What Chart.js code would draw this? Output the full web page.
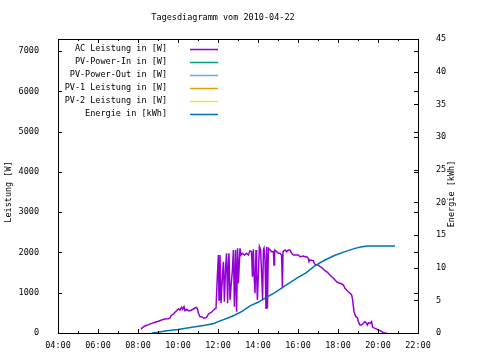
<!DOCTYPE html>
<html>
<head>
<meta charset="utf-8">
<title>Tagesdiagramm</title>
<script src="https://cdn.jsdelivr.net/npm/chart.js@4.4.1/dist/chart.umd.min.js"></script>
<style>
  body { margin: 0; background: #fff; }
  canvas { display: block; }
</style>
</head>
<body>
<canvas id="tages-chart" width="480" height="360"></canvas>
<script>
// Tagesdiagramm 2010-04-22, Stunden (dezimal) / Watt / kWh
let chartTitle = 'Tagesdiagramm vom 2010-04-22';
let seriesNames = ['AC Leistung in [W]', 'PV-Power-In in [W]', 'PV-Power-Out in [W]',
                   'PV-1 Leistung in [W]', 'PV-2 Leistung in [W]', 'Energie in [kWh]'];
let seriesColors = ['#9400d3', '#009e73', '#56b4e9', '#e69f00', '#f0e442', '#0072b2'];

let acHours = [8.15, 8.22, 8.35, 8.52, 8.68, 8.85, 9.02, 9.15, 9.32, 9.52, 9.6, 9.65, 9.77, 9.85, 9.93,
  10.02, 10.1, 10.18, 10.23, 10.3, 10.35, 10.43, 10.52, 10.6, 10.68, 10.77, 10.85, 10.93, 10.98,
  11.02, 11.1, 11.18, 11.27, 11.35, 11.43, 11.52, 11.68, 11.82, 11.9, 11.97,
  12.02, 12.05, 12.1, 12.15, 12.22, 12.27, 12.32, 12.38, 12.43, 12.48, 12.52, 12.55, 12.6, 12.65,
  12.72, 12.77, 12.82, 12.88, 12.93, 12.98, 13.02, 13.1, 13.15, 13.22, 13.32, 13.43, 13.52, 13.6,
  13.68, 13.72, 13.77, 13.8, 13.85, 13.9, 13.93, 13.97, 14.02, 14.07, 14.13, 14.18, 14.23, 14.27,
  14.3, 14.35, 14.4, 14.43, 14.47, 14.52, 14.6, 14.68, 14.77, 14.8, 14.83, 14.93, 15.02, 15.1,
  15.18, 15.22, 15.25, 15.35, 15.43, 15.52, 15.6, 15.68, 15.77, 15.93, 16.02, 16.1, 16.27, 16.35,
  16.43, 16.52, 16.55, 16.6, 16.77, 16.82, 16.88, 17.02, 17.1, 17.18, 17.27, 17.35, 17.43, 17.52,
  17.6, 17.68, 17.77, 17.85, 17.93, 18.02, 18.1, 18.18, 18.27, 18.35, 18.43, 18.52, 18.6, 18.68,
  18.72, 18.77, 18.8, 18.85, 18.9, 18.97, 19.02, 19.1, 19.18, 19.27, 19.35, 19.43, 19.47, 19.52,
  19.6, 19.68, 19.73, 19.85, 20.02, 20.18, 20.27, 20.45];
let acWatts = [92, 132, 174, 207, 240, 265, 290, 315, 348, 356, 372, 430, 472, 513, 554,
  604, 571, 637, 588, 654, 554, 588, 554, 554, 571, 596, 621, 637, 588,
  489, 406, 406, 372, 372, 389, 472, 521, 588, 613, 1440,
  1937, 819, 1937, 737, 1398, 1770, 777, 1646, 1979, 737, 1646, 1979, 819, 1150,
  1564, 2061, 654, 2061, 530, 2103, 1234, 2103, 1937, 1979, 1937, 1979, 1937, 2040,
  2020, 1400, 2080, 1482, 986, 2061, 1482, 819, 1482, 2143, 2061, 1482, 819, 2061,
  2103, 1813, 613, 2143, 613, 2103, 2061, 2020, 2020, 1689, 2061, 2020, 1979, 1979,
  1937, 1110, 2020, 2061, 2020, 2061, 2061, 1979, 1937, 1937, 1937, 1895, 1912, 1895,
  1895, 1854, 1770, 1813, 1796, 1730, 1689, 1689, 1647, 1631, 1581, 1548, 1522, 1482,
  1440, 1398, 1358, 1316, 1274, 1249, 1234, 1217, 1192, 1110, 1068, 1025, 986, 944,
  862, 654, 530, 447, 406, 380, 281, 199, 199, 240, 281, 240, 199, 257,
  240, 281, 141, 115, 74, 40, 8, 0];

let energyHours = [8.68, 9.0, 9.35, 10.0, 10.7, 11.35, 11.8, 12.1, 12.5, 12.85, 13.2, 13.6, 14.0,
  14.4, 14.8, 15.2, 15.6, 16.0, 16.4, 16.85, 17.35, 17.85, 18.35, 18.85, 19.2, 19.5, 20.85];
let energyKwh = [0, 0.12, 0.3, 0.55, 0.87, 1.17, 1.45, 1.85, 2.3, 2.75, 3.3, 4.15, 4.7,
  5.4, 6.1, 6.9, 7.7, 8.5, 9.2, 10.3, 11.17, 11.9, 12.45, 12.95, 13.2, 13.3, 13.3];

// PV-In, PV-Out, PV-1, PV-2 haben an dem Tag keine Werte
let emptySeries = [];

// Achsen
let xTicks = [4, 6, 8, 10, 12, 14, 16, 18, 20, 22];
let yTicks = [0, 1000, 2000, 3000, 4000, 5000, 6000, 7000];
let y2Ticks = [0, 5, 10, 15, 20, 25, 30, 35, 40, 45];
let xMin = 4, xMax = 22;
let yMax = 7300, y2Max = 45;

let font = { family: 'DejaVu Sans Mono', size: 8.5 };

function toPoints(xs, ys) {
  var pts = [];
  for (var i = 0; i < xs.length; i++) pts.push({ x: xs[i], y: ys[i] });
  return pts;
}
function hourLabel(v) {
  var h = Math.round(v);
  return (h < 10 ? '0' + h : '' + h) + ':00';
}
function fixedTicks(values) {
  return function (scale) {
    scale.ticks = values.map(function (v) { return { value: v }; });
  };
}

// gnuplot look: frame, ticks pointing inside, own legend and titles
var gnuplotLook = {
  id: 'gnuplotLook',
  afterDraw: function (chart) {
    var ctx = chart.ctx;
    var a = chart.chartArea;
    var sx = chart.scales.x, sy = chart.scales.y, sy2 = chart.scales.y2;
    ctx.save();
    ctx.strokeStyle = '#000';
    ctx.lineWidth = 1;
    ctx.strokeRect(a.left + 0.5, a.top + 0.5, a.right - a.left, a.bottom - a.top);

    ctx.beginPath();
    // x ticks, every hour (minor) and at the labels (major)
    for (var h = xMin; h <= xMax; h++) {
      var px = Math.round(sx.getPixelForValue(h)) + 0.5;
      var len = (xTicks.indexOf(h) >= 0) ? 4 : 2;
      ctx.moveTo(px, a.bottom); ctx.lineTo(px, a.bottom - len);
      ctx.moveTo(px, a.top); ctx.lineTo(px, a.top + len);
    }
    // left ticks, mirrored on the right side
    sy.ticks.forEach(function (t) {
      var py = Math.round(sy.getPixelForValue(t.value)) + 0.5;
      ctx.moveTo(a.left, py); ctx.lineTo(a.left + 4, py);
      ctx.moveTo(a.right, py); ctx.lineTo(a.right - 4, py);
    });
    sy2.ticks.forEach(function (t) {
      var py = Math.round(sy2.getPixelForValue(t.value)) + 0.5;
      ctx.moveTo(a.right, py); ctx.lineTo(a.right - 4, py);
    });
    ctx.stroke();

    ctx.fillStyle = '#000';
    ctx.font = font.size + 'px ' + font.family;
    ctx.textBaseline = 'middle';

    // title
    ctx.textAlign = 'center';
    ctx.fillText(chartTitle, 223, 18);

    // axis titles
    ctx.save();
    ctx.translate(9, (a.top + a.bottom) / 2 + 6);
    ctx.rotate(-Math.PI / 2);
    ctx.fillText('Leistung [W]', 0, 0);
    ctx.restore();
    ctx.save();
    ctx.translate(452, (a.top + a.bottom) / 2 + 8);
    ctx.rotate(-Math.PI / 2);
    ctx.fillText('Energie [kWh]', 0, 0);
    ctx.restore();

    // legend, text right aligned, sample line right of it
    chart.data.datasets.forEach(function (ds, i) {
      var ly = a.top + 10 + i * 13;
      ctx.textAlign = 'right';
      ctx.fillStyle = '#000';
      ctx.fillText(ds.label, a.left + 109, ly);
      ctx.strokeStyle = ds.borderColor;
      ctx.lineWidth = 1.5;
      ctx.beginPath();
      ctx.moveTo(a.left + 132, ly + 0.5);
      ctx.lineTo(a.left + 160, ly + 0.5);
      ctx.stroke();
    });
    ctx.restore();
  }
};

var datasets = [];
for (var i = 0; i < seriesNames.length; i++) {
  var d = emptySeries;
  var axis = 'y';
  if (i == 0) d = toPoints(acHours, acWatts);
  if (i == 5) { d = toPoints(energyHours, energyKwh); axis = 'y2'; }
  datasets.push({
    label: seriesNames[i],
    data: d,
    yAxisID: axis,
    borderColor: seriesColors[i],
    backgroundColor: seriesColors[i],
    borderWidth: 1.5,
    pointRadius: 0,
    tension: 0,
    fill: false,
    order: (i == 5) ? 0 : 1
  });
}

new Chart(document.getElementById('tages-chart'), {
  type: 'line',
  data: { datasets: datasets },
  plugins: [gnuplotLook],
  options: {
    responsive: false,
    animation: false,
    layout: { padding: { top: 39, left: 0, right: 0, bottom: 0 } },
    plugins: {
      legend: { display: false },
      title: { display: false },
      tooltip: { enabled: false }
    },
    scales: {
      x: {
        type: 'linear',
        min: xMin, max: xMax,
        grid: { display: false },
        border: { display: false },
        ticks: { autoSkip: false, maxRotation: 0, color: '#000', font: font,
                 padding: 0, callback: hourLabel },
        afterBuildTicks: fixedTicks(xTicks),
        afterFit: function (s) { s.height = 27; }
      },
      y: {
        position: 'left',
        min: 0, max: yMax,
        grid: { display: false },
        border: { display: false },
        ticks: { color: '#000', font: font, padding: 11, callback: function (v) { return '' + v; } },
        afterBuildTicks: fixedTicks(yTicks),
        afterFit: function (s) { s.width = 58; }
      },
      y2: {
        position: 'right',
        min: 0, max: y2Max,
        grid: { display: false },
        border: { display: false },
        ticks: { color: '#000', font: font, padding: 10, callback: function (v) { return '' + v; } },
        afterBuildTicks: fixedTicks(y2Ticks),
        afterFit: function (s) { s.width = 62; }
      }
    }
  }
});
</script>
</body>
</html>
